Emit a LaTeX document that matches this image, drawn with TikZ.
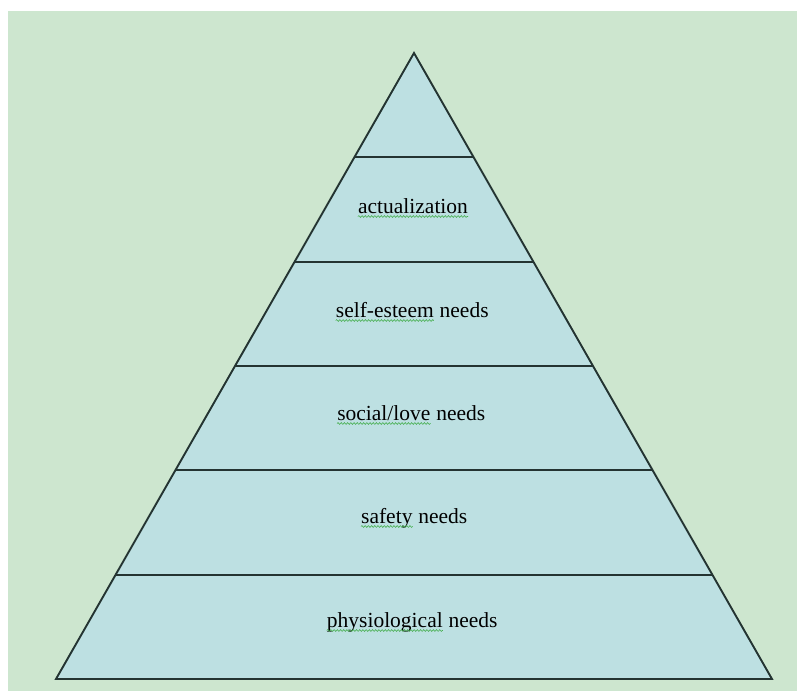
\documentclass[tikz,border=0pt]{standalone}
\usepackage{fontspec}
\setmainfont{Liberation Serif}
\usetikzlibrary{calc,decorations.pathmorphing}

\definecolor{pagegreen}{RGB}{205,230,207}
\definecolor{tierblue}{RGB}{189,224,226}
\definecolor{edgedark}{RGB}{36,52,50}
\definecolor{spellgreen}{RGB}{70,175,80}

\tikzset{
  tierline/.style={draw=edgedark, line width=1.9pt},
  tierlabel/.style={anchor=base, inner sep=0pt, font=\fontsize{21.5}{25}\selectfont, text=black},
  squiggle/.style={draw=spellgreen, line width=0.6pt,
    decorate, decoration={snake, amplitude=0.9pt, segment length=3.2pt}}
}

% word with a wavy green underline
\newcommand\wavyword[1]{\tikz[baseline=(ww.base)]{%
  \node[inner sep=0pt] (ww) {#1};
  \draw[squiggle] ([yshift=-3.5pt]ww.base west) -- ([yshift=-3.5pt]ww.base east);}}

\begin{document}
\begin{tikzpicture}[x=1pt, y=-1pt]
  \useasboundingbox (0,0) rectangle (797,691);
  \fill[pagegreen] (8,11) rectangle (797,691);

  \coordinate (apex) at (414,53);
  \coordinate (bl) at (56,679);
  \coordinate (br) at (772,679);

  % pyramid body
  \fill[tierblue] (apex) -- (bl) -- (br) -- cycle;

  % tier separators
  \foreach \k in {1,...,5} {
    \draw[tierline] ($(apex)!\k/6!(bl)$) -- ($(apex)!\k/6!(br)$);
  }

  % outline
  \draw[tierline, line join=miter] (apex) -- (bl) -- (br) -- cycle;

  % labels
  \node[tierlabel] (l1) at (413,213) {\wavyword{actualization}};
  \node[tierlabel] (l2) at (412,317) {\wavyword{self-esteem} needs};
  \node[tierlabel] (l3) at (411,420) {\wavyword{social/love} needs};
  \node[tierlabel] (l4) at (414,523) {\wavyword{safety} needs};
  \node[tierlabel] (l5) at (412,627) {\wavyword{physiological} needs};
\end{tikzpicture}
\end{document}
